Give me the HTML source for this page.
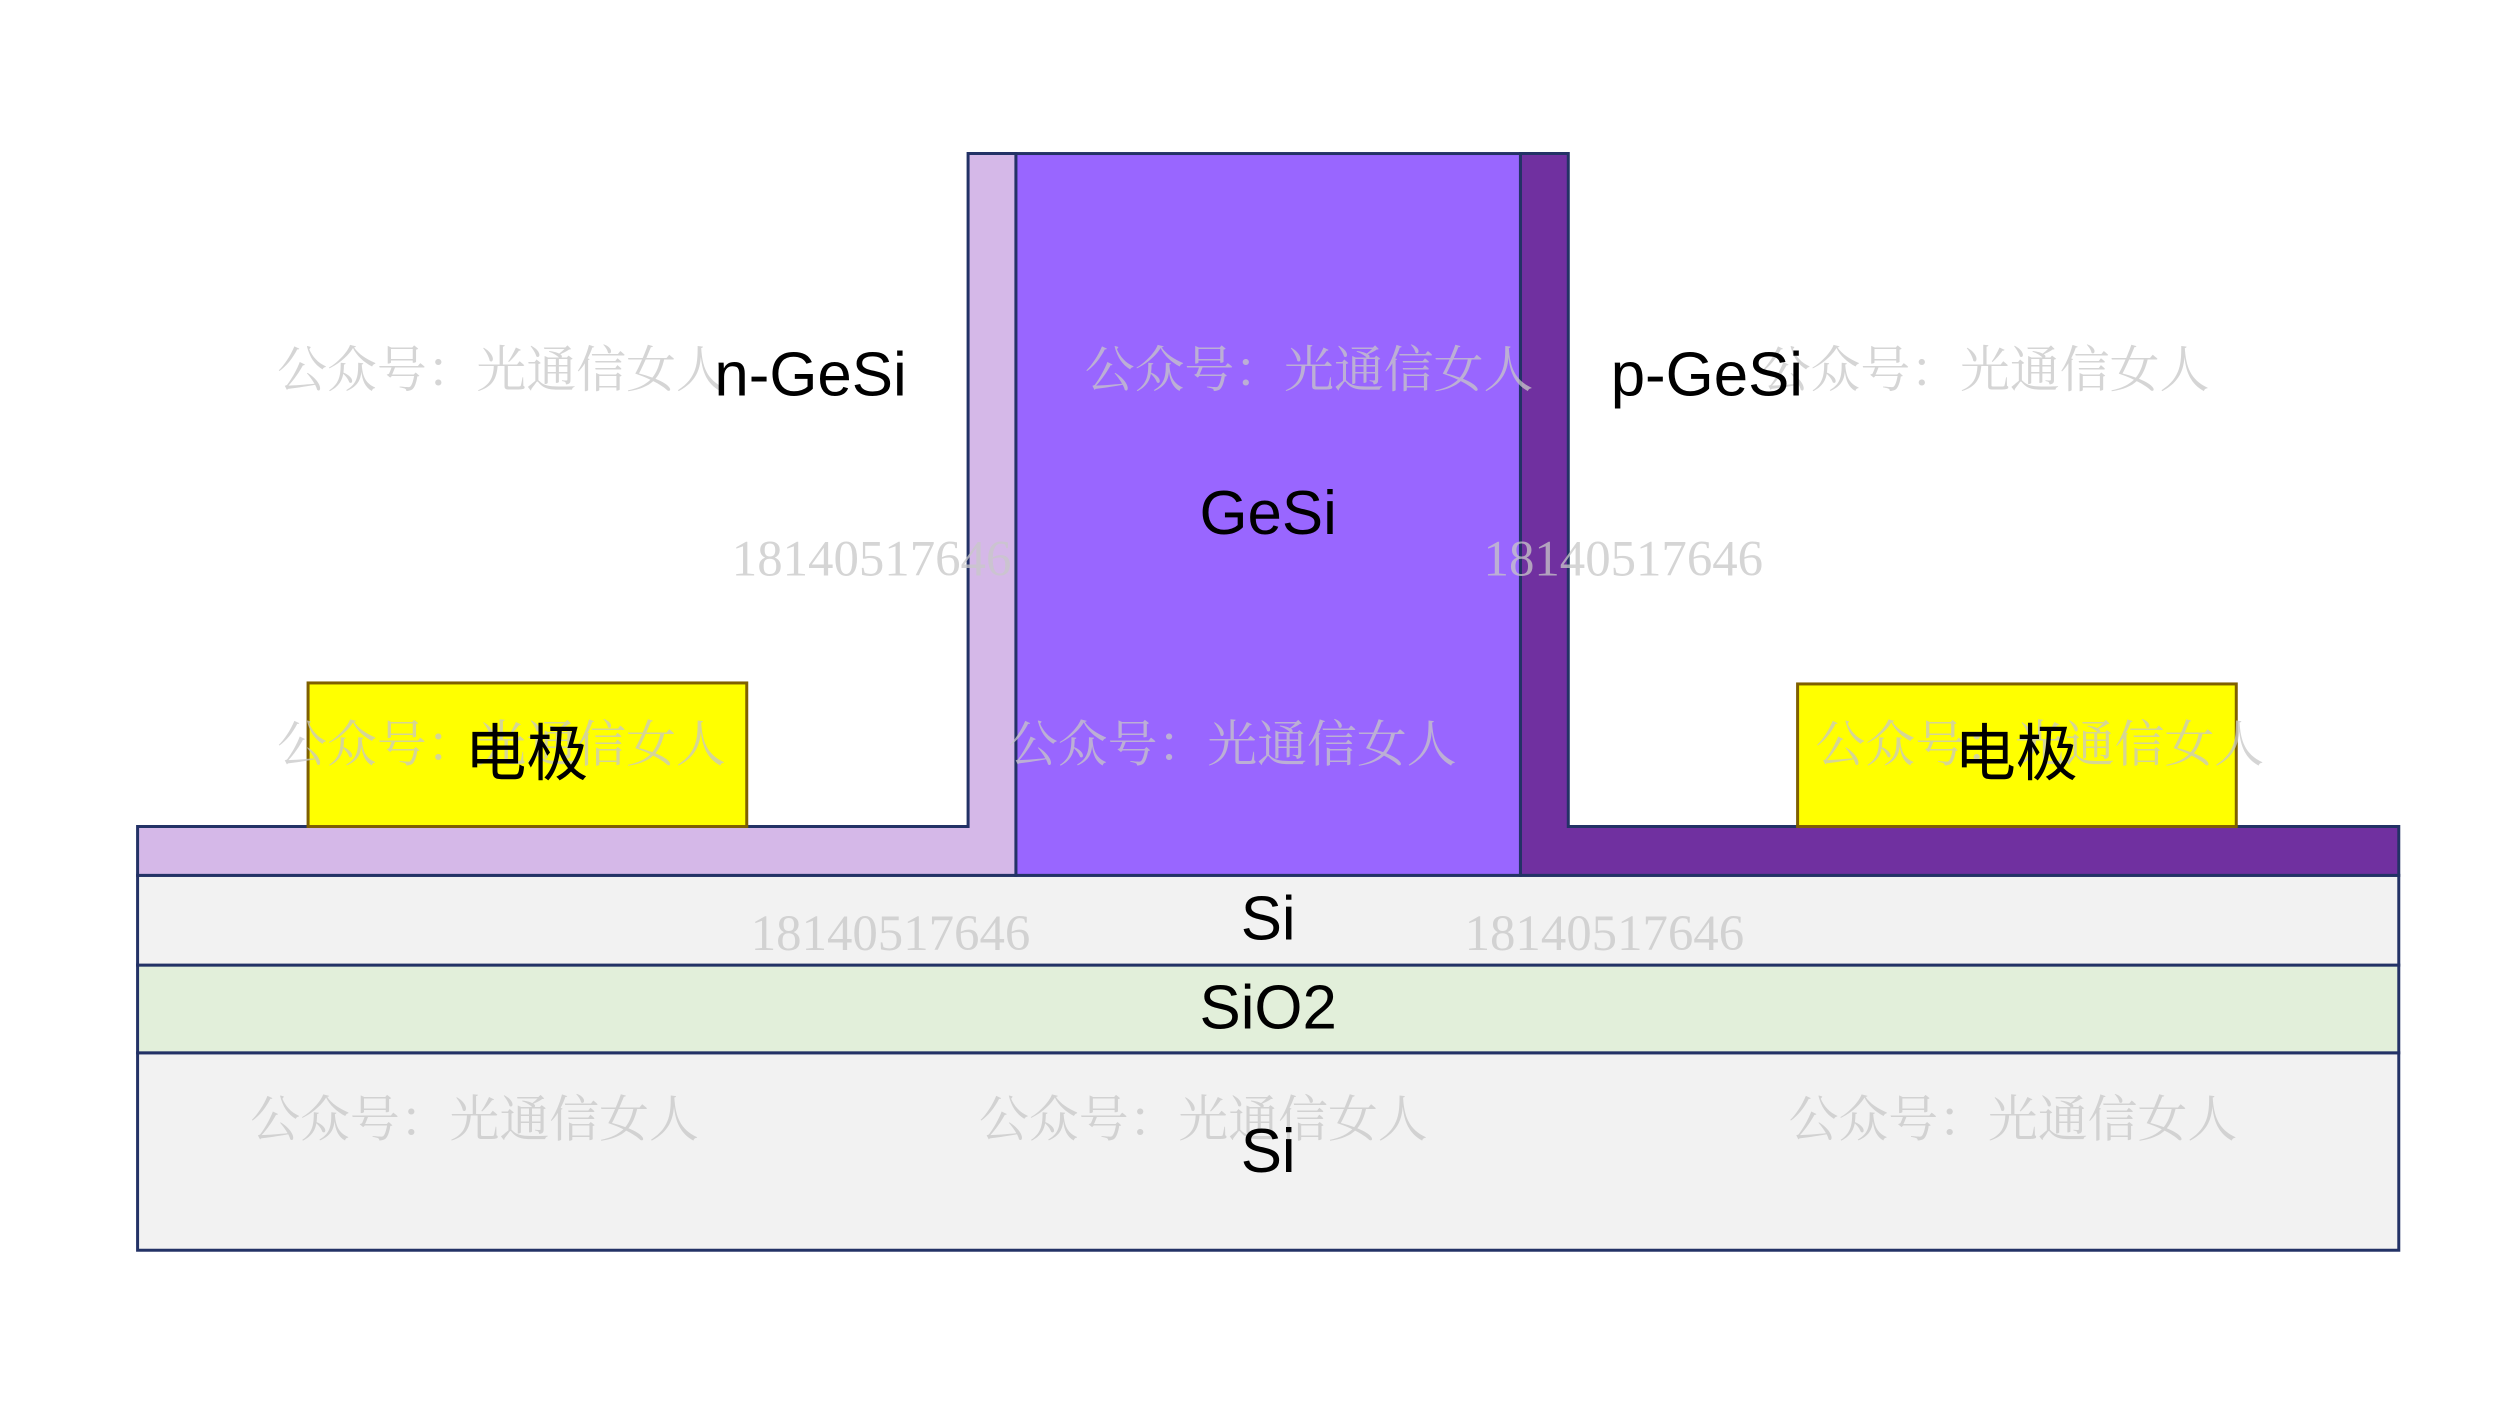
<!DOCTYPE html>
<html><head><meta charset="utf-8"><style>
html,body{margin:0;padding:0;background:#fff;width:2500px;height:1406px;overflow:hidden}
svg{display:block}
.lab{font-family:"Liberation Sans","Noto Sans CJK SC",sans-serif;fill:#000;text-anchor:middle;dominant-baseline:central}
.wm{font-family:"Noto Serif CJK SC","Liberation Serif",serif;fill:#c8c8c8;opacity:.75;font-size:50px}
.wn{font-family:"Liberation Serif",serif;fill:#c8c8c8;opacity:.75;font-size:51px}
</style></head><body>
<svg width="2500" height="1406" viewBox="0 0 2500 1406" xmlns="http://www.w3.org/2000/svg">
<g transform="scale(0.997)">
<g stroke="#233266" stroke-width="3">
<rect x="138" y="1056" width="2268" height="198" fill="#F2F2F2"/>
<rect x="138" y="968" width="2268" height="88" fill="#E2EFDA"/>
<rect x="138" y="878" width="2268" height="90" fill="#F2F2F2"/>
<path d="M138 829 H971 V154 H1019 V878 H138 Z" fill="#D5B8E8"/>
<path d="M1525 154 H1573 V829 H2406 V878 H1525 Z" fill="#7030A0"/>
<rect x="1019" y="154" width="506" height="724" fill="#9966FF"/>
</g>
<g stroke="#7F6000" stroke-width="3" fill="#FFFF00">
<rect x="309" y="685" width="440" height="144"/>
<rect x="1803" y="686" width="440" height="143"/>
</g>
<g class="wm">
<text x="278" y="388">公众号：光通信女人</text>
<text x="1088" y="388">公众号：光通信女人</text>
<text x="1766" y="388">公众号：光通信女人</text>
<text x="278" y="764">公众号：光通信女人</text>
<text x="1011" y="764">公众号：光通信女人</text>
<text x="1821" y="764">公众号：光通信女人</text>
<text x="251" y="1140">公众号：光通信女人</text>
<text x="982" y="1140">公众号：光通信女人</text>
<text x="1794" y="1140">公众号：光通信女人</text>
</g>
<g class="wn">
<text x="734" y="577">18140517646</text>
<text x="1488" y="577">18140517646</text>
<text x="753" y="953">18140517646</text>
<text x="1469" y="953">18140517646</text>
</g>
<g class="lab" font-size="62">
<text x="813" y="376">n-GeSi</text>
<text x="1712" y="376">p-GeSi</text>
<text x="1272" y="515">GeSi</text>
<text x="1272" y="922">Si</text>
<text x="1272" y="1011">SiO2</text>
<text x="1272" y="1155">Si</text>
<text x="528" y="757">电极</text>
<text x="2022" y="757">电极</text>
</g>
</g>
</svg>
</body></html>
